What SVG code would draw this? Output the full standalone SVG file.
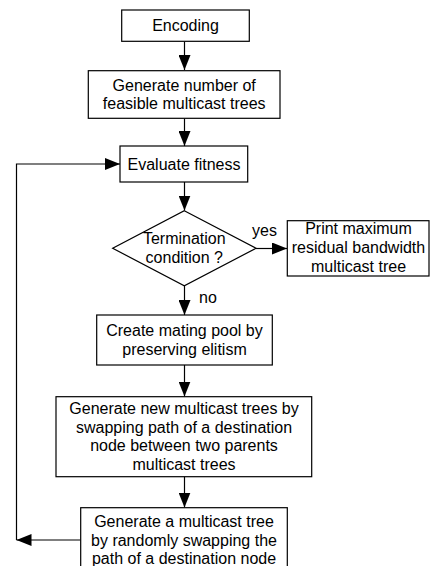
<svg xmlns="http://www.w3.org/2000/svg" width="430" height="566" viewBox="0 0 430 566">
<style>
.box{fill:#fff;stroke:#000;stroke-width:1.2}
.t{font-family:"Liberation Sans",Arial,sans-serif;font-size:16px;fill:#000;text-anchor:middle;dominant-baseline:central}
.c{fill:none;stroke:#000;stroke-width:1.2}
</style>
<defs>
<marker id="ah" markerUnits="userSpaceOnUse" markerWidth="16" markerHeight="12" refX="15" refY="6" orient="auto">
<path d="M0,0 L15,6 L0,12 Z" fill="#000"/>
</marker>
</defs>
<rect width="430" height="566" fill="#fff"/>
<g id="connectors">
<path class="c" d="M184.5,41.5 V70" marker-end="url(#ah)"/>
<path class="c" d="M184.5,118.5 V146" marker-end="url(#ah)"/>
<path class="c" d="M184.5,182 V210.5" marker-end="url(#ah)"/>
<path class="c" d="M256,248.5 H287" marker-end="url(#ah)"/>
<path class="c" d="M184.5,286 V315" marker-end="url(#ah)"/>
<path class="c" d="M184.5,365 V396.5" marker-end="url(#ah)"/>
<path class="c" d="M184.5,476.5 V507.5" marker-end="url(#ah)"/>
<path class="c" d="M80.5,540 H16.5" marker-end="url(#ah)"/>
<path class="c" d="M16.5,540 V164 H120" marker-end="url(#ah)"/>
<text class="t" x="264.5" y="230">yes</text>
<text class="t" x="208" y="297">no</text>
</g>
<g id="encoding">
<rect class="box" x="121.7" y="10" width="127.6" height="31.3"/>
<text class="t" x="185.5" y="25.7">Encoding</text>
</g>
<g id="generate-number">
<rect class="box" x="88.3" y="70.7" width="191.7" height="47.6"/>
<text class="t" x="184.2" y="85">Generate number of</text>
<text class="t" x="184.2" y="103.5">feasible multicast trees</text>
</g>
<g id="evaluate">
<rect class="box" x="120" y="146" width="127.7" height="36"/>
<text class="t" x="184" y="164">Evaluate fitness</text>
</g>
<g id="termination">
<path class="box" d="M184.3,210.7 L256,248.3 L184.3,285.7 L112.7,248.3 Z"/>
<text class="t" x="184.3" y="238.3">Termination</text>
<text class="t" x="184.3" y="257.7">condition ?</text>
</g>
<g id="print">
<rect class="box" x="287.3" y="220.7" width="141.7" height="55.3"/>
<text class="t" x="358.5" y="228.5">Print maximum</text>
<text class="t" x="358.5" y="247.5">residual bandwidth</text>
<text class="t" x="358.5" y="266.5">multicast tree</text>
</g>
<g id="mating-pool">
<rect class="box" x="96.7" y="315" width="175.6" height="50"/>
<text class="t" x="184.5" y="330.5">Create mating pool by</text>
<text class="t" x="184.5" y="349.5">preserving elitism</text>
</g>
<g id="crossover">
<rect class="box" x="56" y="396.7" width="255.7" height="80"/>
<text class="t" x="184" y="408.5">Generate new multicast trees by</text>
<text class="t" x="184" y="427">swapping path of a destination</text>
<text class="t" x="184" y="445.5">node between two parents</text>
<text class="t" x="184" y="464">multicast trees</text>
</g>
<g id="mutation">
<rect class="box" x="80.7" y="507.7" width="206.6" height="70"/>
<text class="t" x="184" y="521">Generate a multicast tree</text>
<text class="t" x="184" y="540">by randomly swapping the</text>
<text class="t" x="184" y="558.5">path of a destination node</text>
</g>
</svg>
